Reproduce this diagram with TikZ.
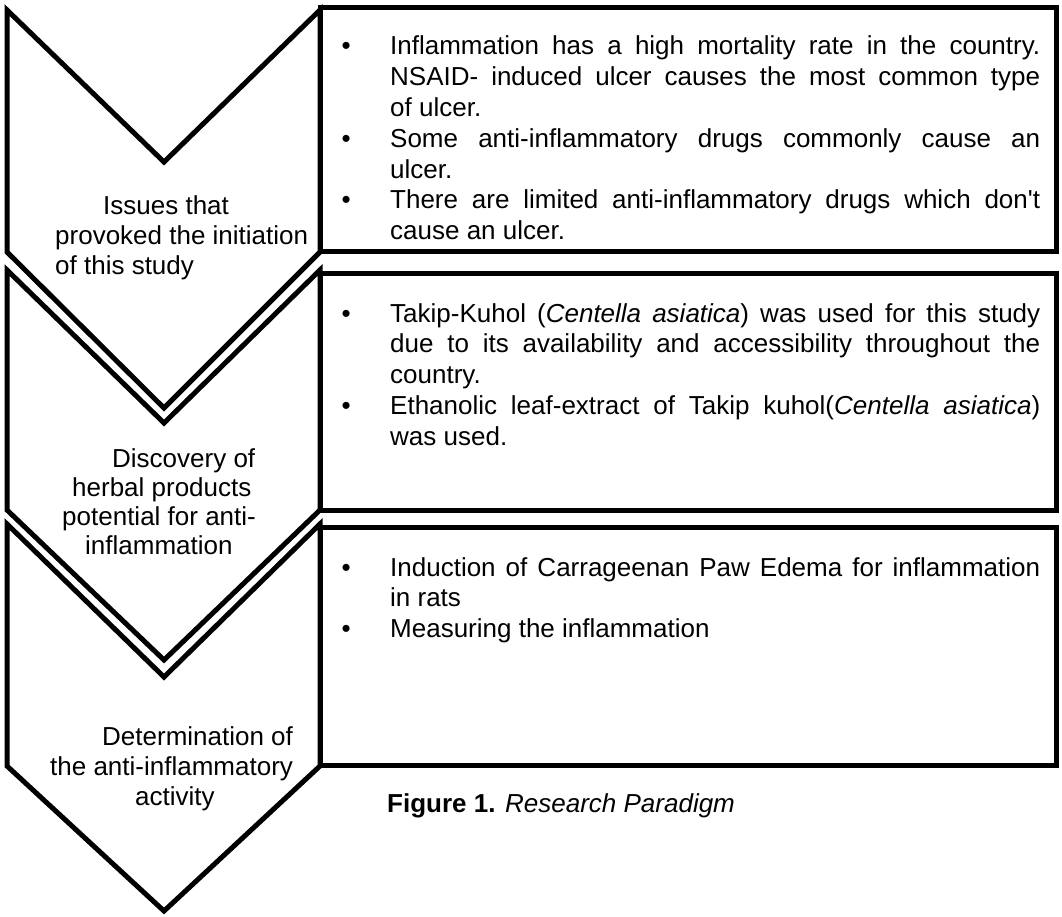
\documentclass[tikz,border=0pt]{standalone}
\usepackage{fontspec}
\setmainfont{Liberation Sans}
\newfontfamily\plainfont{Liberation Sans}
\newcommand\mysq{{\plainfont\char"27}}
\newcommand\mybul{\leavevmode\llap{\textbullet\hspace{39.5pt}}}
\newcommand\mychev[7]{% L R C top notch bottom tip
  \draw[chev] (#1,#4) -- (#3,#5) -- (#2,#4) -- (#2,#6) -- (#3,#7) -- (#1,#6) -- cycle;}
\tikzset{
  chev/.style={draw=black, line width=5pt, line join=miter, miter limit=10},
  boxst/.style={draw=black, line width=5pt, line join=miter},
  lbl/.style={anchor=base west, inner sep=0pt, font=\fontsize{26}{30}\selectfont},
  body/.style={anchor=base west, inner sep=0pt}
}
\newcommand\bodytext[1]{\parbox[t]{650pt}{\fontsize{26}{30.8}\selectfont\parindent0pt\parskip0pt #1}}
\begin{document}
\begin{tikzpicture}[x=1pt,y=-1pt]
\useasboundingbox (0,0) rectangle (1062,917);
% chevrons
\mychev{7}{320}{164}{10}{162}{252}{408}
\mychev{7}{320}{164}{270}{423}{510}{660}
\mychev{7}{320}{164}{524}{677}{766}{911}
% boxes
\draw[boxst] (320,8) rectangle (1056,252);
\draw[boxst] (320,273) rectangle (1056,510);
\draw[boxst] (320,527) rectangle (1056,765);
% chevron labels
\node[lbl] (c1a) at (55,215) {\hspace*{48pt}Issues that};
\node[lbl] (c1b) at (55,244.5) {provoked the initiation};
\node[lbl] (c1c) at (55,274) {of this study};
\node[lbl] (c2a) at (112,467) {Discovery of};
\node[lbl] (c2b) at (72,496) {herbal products};
\node[lbl] (c2c) at (62,525) {potential for anti-};
\node[lbl] (c2d) at (85,554) {inflammation};
\node[lbl] (c3a) at (102,745) {Determination of};
\node[lbl] (c3b) at (50,775) {the anti-inflammatory};
\node[lbl] (c3c) at (135,805) {activity};
% box texts
\node[body] (t1) at (390,55) {\bodytext{%
\mybul Inflammation has a high mortality rate in the country.\linebreak NSAID- induced ulcer causes the most common type\linebreak of ulcer.\par
\mybul Some anti-inflammatory drugs commonly cause an\linebreak ulcer.\par
\mybul There are limited anti-inflammatory drugs which don\mysq t\linebreak cause an ulcer.}};
\node[body] (t2) at (390,322) {\bodytext{%
\mybul Takip-Kuhol (\textit{Centella asiatica}) was used for this study\linebreak due to its availability and accessibility throughout the\linebreak country.\par
\mybul Ethanolic leaf-extract of Takip kuhol(\textit{Centella asiatica})\linebreak was used.}};
\node[body] (t3) at (390,576) {\bodytext{%
\mybul Induction of Carrageenan Paw Edema for inflammation\linebreak in rats\par
\mybul Measuring the inflammation}};
% caption
\node[lbl] (cap) at (387,812) {\textbf{Figure 1.} \textit{Research Paradigm}};
\end{tikzpicture}
\end{document}
